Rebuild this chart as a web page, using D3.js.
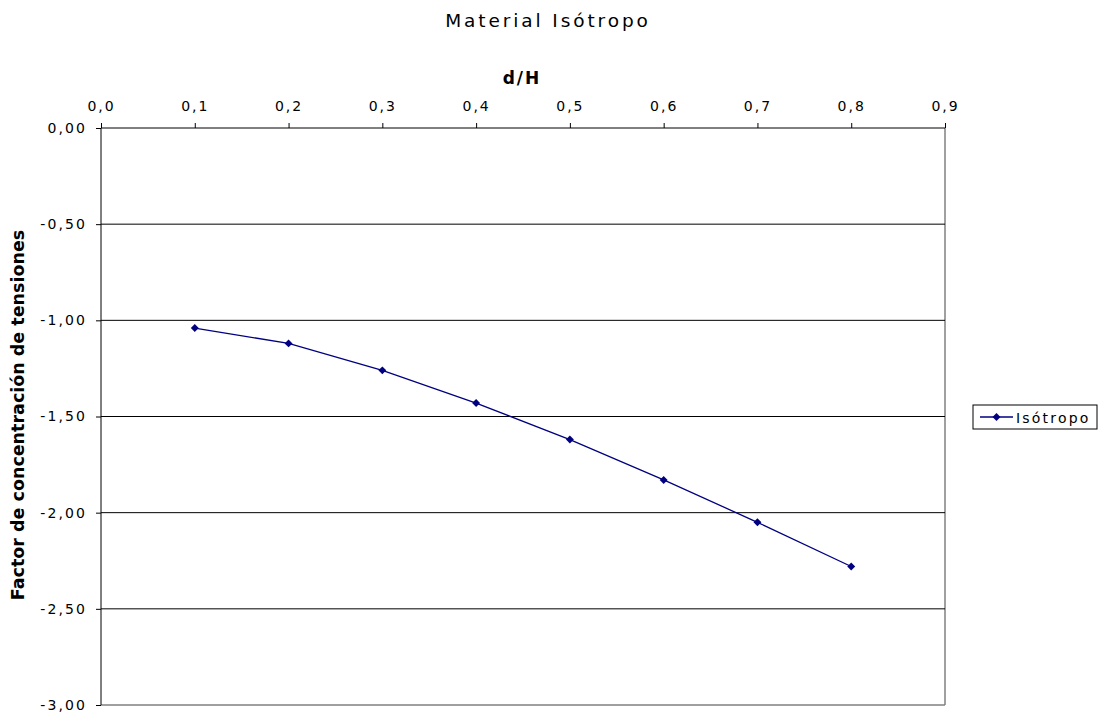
<!DOCTYPE html>
<html>
<head>
<meta charset="utf-8">
<script src="https://cdn.jsdelivr.net/npm/d3@7"></script>
<style>
  body { margin: 0; background: #fff; }
  text { font-family: "DejaVu Sans", Verdana, sans-serif; }
</style>
</head>
<body>
<svg id="chart" width="1106" height="715"></svg>
<script>
// d/H ratio and stress concentration factor
const ratios = [0.1, 0.2, 0.3, 0.4, 0.5, 0.6, 0.7, 0.8];
const factors = [-1.04, -1.12, -1.26, -1.43, -1.62, -1.83, -2.05, -2.28];
const xTicks = [0, 0.1, 0.2, 0.3, 0.4, 0.5, 0.6, 0.7, 0.8, 0.9];
const yTicks = [0, -0.5, -1, -1.5, -2, -2.5, -3];
const seriesName = "Isótropo";

const svg = d3.select("#chart");
const plotL = 101, plotR = 945, plotT = 128, plotB = 705;

const x = d3.scaleLinear().domain([0, 0.9]).range([plotL, plotR]);
const y = d3.scaleLinear().domain([0, -3]).range([plotT, plotB]);

// Title
svg.append("text").attr("x", 548).attr("y", 27).attr("text-anchor", "middle")
  .attr("font-size", 18.5).attr("letter-spacing", 2.9).text("Material Isótropo");

// Plot frame (right and bottom)
svg.append("line").attr("x1", plotR).attr("x2", plotR).attr("y1", plotT).attr("y2", plotB)
  .attr("stroke", "#808080").attr("stroke-width", 1.5);
svg.append("line").attr("x1", plotL).attr("x2", plotR).attr("y1", plotB).attr("y2", plotB)
  .attr("stroke", "#808080").attr("stroke-width", 1.5);

// Horizontal gridlines
svg.append("g").selectAll("line").data(yTicks.filter(d => d !== 0 && d !== -3)).join("line")
  .attr("x1", plotL).attr("x2", plotR)
  .attr("y1", d => y(d)).attr("y2", d => y(d))
  .attr("stroke", "#000").attr("stroke-width", 1);

// X axis on top
const xAxis = svg.append("g").attr("transform", `translate(0,${plotT})`)
  .call(d3.axisTop(x).tickValues(xTicks).tickSize(5).tickPadding(12)
    .tickFormat(d => d3.format(".1f")(d).replace(".", ",")));
xAxis.select(".domain").attr("d", `M${plotL},0H${plotR}`).attr("stroke", "#000");
xAxis.selectAll("text").attr("font-size", 14).attr("letter-spacing", 2)
  .attr("font-family", "DejaVu Sans, Verdana, sans-serif");

// Y axis on left
const yAxis = svg.append("g").attr("transform", `translate(${plotL},0)`)
  .call(d3.axisLeft(y).tickValues(yTicks).tickSize(5).tickPadding(9)
    .tickFormat(d => d3.format(".2f")(d).replace(".", ",").replace("−", "-")));
yAxis.select(".domain").attr("d", `M0,${plotT}V${plotB}`).attr("stroke", "#000");
yAxis.selectAll("text").attr("font-size", 14).attr("letter-spacing", 2.1)
  .attr("font-family", "DejaVu Sans, Verdana, sans-serif");

// Axis titles
svg.append("text").attr("x", 522).attr("y", 84).attr("text-anchor", "middle")
  .attr("font-size", 17).attr("font-weight", "bold").attr("letter-spacing", 2).text("d/H");
svg.append("text").attr("transform", "translate(24,415) rotate(-90)").attr("text-anchor", "middle")
  .attr("font-size", 17.5).attr("font-weight", "bold").text("Factor de concentración de tensiones");

// Series line and markers
const color = "#000080";
const pts = ratios.map((r, i) => [r, factors[i]]);
svg.append("path").datum(pts)
  .attr("d", d3.line().x(d => x(d[0])).y(d => y(d[1])))
  .attr("fill", "none").attr("stroke", color).attr("stroke-width", 1.3);
const diamond = d3.symbol().type(d3.symbolDiamond2).size(40);
svg.append("g").selectAll("path").data(pts).join("path")
  .attr("transform", d => `translate(${x(d[0])},${y(d[1])})`)
  .attr("d", diamond).attr("fill", color);

// Legend
const lg = svg.append("g").attr("transform", "translate(973,405)");
lg.append("rect").attr("width", 124).attr("height", 24)
  .attr("fill", "#fff").attr("stroke", "#000").attr("stroke-width", 1);
lg.append("line").attr("x1", 7).attr("x2", 40).attr("y1", 12).attr("y2", 12)
  .attr("stroke", color).attr("stroke-width", 1.3);
lg.append("path").attr("transform", "translate(23.5,12)").attr("d", diamond).attr("fill", color);
lg.append("text").attr("x", 43).attr("y", 18).attr("font-size", 14)
  .attr("letter-spacing", 2.2).text(seriesName);
</script>
</body>
</html>
